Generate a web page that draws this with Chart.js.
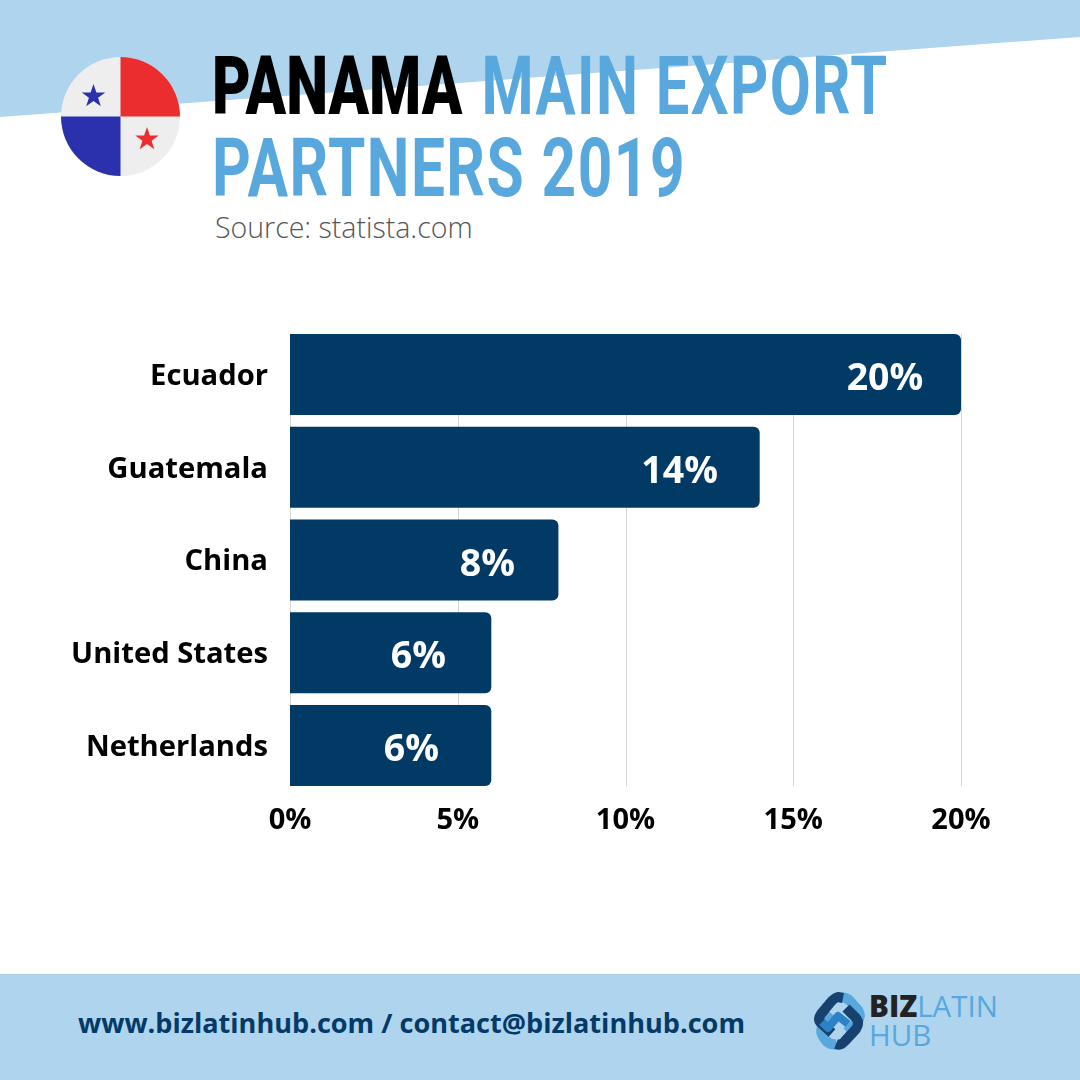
<!DOCTYPE html>
<html>
<head>
<meta charset="utf-8">
<title>Panama main export partners 2019</title>
<script src="https://cdn.jsdelivr.net/npm/chart.js@4"></script>
<style>
  html, body { margin: 0; padding: 0; background: #fff; }
  #page { position: relative; width: 1080px; height: 1080px; overflow: hidden; font-family: "Open Sans", sans-serif; }
  #bg { position: absolute; left: 0; top: 0; }
  #chart-wrap { position: absolute; left: 0; top: 300px; width: 1080px; height: 560px; }
  .title { position: absolute; left: 212px; font-family: Roboto, sans-serif; font-weight: 700; font-size: 81px; line-height: 82px;
           color: #58a8dd; white-space: nowrap; transform-origin: left top; letter-spacing: 2px; }
  .title b { color: #000; letter-spacing: 0; margin-right: 4px; }
  #source { position: absolute; left: 215px; top: 208px; font-weight: 300; font-size: 28.5px; line-height: 38px; color: #555; }
  #footer-text { position: absolute; left: 78px; top: 1004px; font-weight: 700; font-size: 27.1px; line-height: 38px; color: #043a67; white-space: nowrap; }
  .logo { position: absolute; font-size: 29.5px; line-height: 32px; color: #58a8dd; font-weight: 400; white-space: nowrap; }
  .logo b { color: #222; font-weight: 800; }
</style>
</head>
<body>
<div id="page">
  <svg id="bg" width="1080" height="1080" viewBox="0 0 1080 1080">
    <polygon points="0,0 1080,0 1080,37 0,117" fill="#aed4ee"/>
    <rect x="0" y="974" width="1080" height="106" fill="#aed4ee"/>
    <!-- flag -->
    <circle cx="120.5" cy="116.5" r="59.5" fill="#eeeeee"/>
    <path d="M120.5 116.5 V57 A59.5 59.5 0 0 1 180 116.5 Z" fill="#ec2d2f"/>
    <path d="M120.5 116.5 V176 A59.5 59.5 0 0 1 61 116.5 Z" fill="#2b30ad"/>
    <polygon points="93.5,84 96.4,92.5 105.2,92.5 98.1,97.8 100.8,106.3 93.5,101.1 86.2,106.3 88.9,97.8 81.8,92.5 90.6,92.5" fill="#2b30ad"/>
    <polygon points="147,127 149.9,135.5 158.7,135.5 151.6,140.8 154.3,149.3 147,144.1 139.7,149.3 142.4,140.8 135.3,135.5 144.1,135.5" fill="#ec2d2f"/>
    <!-- logo mark -->
    <g fill="none" stroke-width="10" stroke-linejoin="round" stroke-linecap="butt">
      <path d="M840 998 Q846 996 851 1002 L858 1010 Q862 1016 857 1022 L847 1032" stroke="#58a8dd"/>
      <path d="M837 1044 Q829 1046 824 1038 Q819 1031 823 1025 L832 1014" stroke="#58a8dd"/>
      <path d="M843 998 L838 997 Q834 998 830 1003 L821 1014 Q817 1020 822 1024 L832 1033" stroke="#17426f"/>
      <path d="M836 1044 Q841 1046 845 1041 L856 1029 Q860 1023 856 1018 L846 1008" stroke="#17426f"/>
      <path d="M822 1022 L828 1028 L838 1016 L848 1024" stroke="#2c82c6" stroke-width="8"/>
    </g>
  </svg>

  <div class="title" style="top: 46px; transform: scaleX(0.735);"><b>PANAMA</b> MAIN EXPORT</div>
  <div class="title" style="top: 128px; transform: scaleX(0.745);">PARTNERS 2019</div>
  <div id="source">Source: statista.com</div>

  <div id="chart-wrap"><canvas id="exportChart"></canvas></div>

  <div id="footer-text">www.bizlatinhub.com / contact@bizlatinhub.com</div>
  <div class="logo" style="left: 869px; top: 990px;"><b>BIZ</b>LATIN</div>
  <div class="logo" style="left: 869px; top: 1019px;">HUB</div>
</div>

<script>
const categories = ["Ecuador", "Guatemala", "China", "United States", "Netherlands"];
const shares = [20, 14, 8, 6, 6];
const shareLabels = ["20%", "14%", "8%", "6%", "6%"];
const axisTicks = [0, 5, 10, 15, 20];
// how far each label sits in from the end of its bar
const labelInset = [76, 80, 71, 73, 80];

// grid lines only run from the first bar top to the last bar bottom
const shortGrid = {
  id: "shortGrid",
  beforeDatasetsDraw(chart) {
    const bars = chart.getDatasetMeta(0).data;
    const top = bars[0].y - bars[0].height / 2;
    const last = bars[bars.length - 1];
    const bottom = last.y + last.height / 2;
    const ctx = chart.ctx;
    ctx.save();
    ctx.strokeStyle = "#d4d4d4";
    ctx.lineWidth = 1;
    axisTicks.forEach(t => {
      const x = Math.round(chart.scales.x.getPixelForValue(t)) + 0.5;
      ctx.beginPath();
      ctx.moveTo(x, top);
      ctx.lineTo(x, bottom);
      ctx.stroke();
    });
    ctx.restore();
  }
};

const barLabels = {
  id: "barLabels",
  afterDatasetsDraw(chart) {
    const ctx = chart.ctx;
    ctx.save();
    ctx.fillStyle = "#ffffff";
    ctx.font = "700 37.5px 'Open Sans'";
    ctx.textAlign = "center";
    ctx.textBaseline = "middle";
    chart.getDatasetMeta(0).data.forEach((bar, i) => {
      ctx.fillText(shareLabels[i], bar.x - labelInset[i], bar.y + 5);
    });
    ctx.restore();
  }
};

new Chart(document.getElementById("exportChart"), {
  type: "bar",
  data: {
    labels: categories,
    datasets: [{
      data: shares,
      backgroundColor: "#023a66",
      borderRadius: { topRight: 6, bottomRight: 6, topLeft: 0, bottomLeft: 0 },
      borderSkipped: false,
      barPercentage: 0.873,
      categoryPercentage: 1
    }]
  },
  options: {
    indexAxis: "y",
    responsive: true,
    maintainAspectRatio: false,
    animation: false,
    layout: { autoPadding: false, padding: { top: 28, right: 119, bottom: 0, left: 0 } },
    plugins: { legend: { display: false }, tooltip: { enabled: false } },
    scales: {
      x: {
        min: 0,
        max: 20,
        afterBuildTicks: scale => { scale.ticks = axisTicks.map(v => ({ value: v })); },
        afterFit: scale => { scale.height = 68; },
        grid: { display: false },
        border: { display: false },
        ticks: {
          color: "#000",
          padding: 3,
          maxRotation: 0,
          font: { family: "'Open Sans'", size: 29, weight: "700" },
          callback: v => v + "%"
        }
      },
      y: {
        afterFit: scale => { scale.width = 290; },
        // tick padding also pushes the plot top down, so the gap comes from tickLength
        grid: { display: false, tickLength: 18 },
        border: { display: false },
        ticks: {
          color: "#000",
          padding: 4,
          labelOffset: 2,
          font: { family: "'Open Sans'", size: 29.2, weight: "700" }
        }
      }
    }
  },
  plugins: [shortGrid, barLabels]
});
</script>
</body>
</html>
